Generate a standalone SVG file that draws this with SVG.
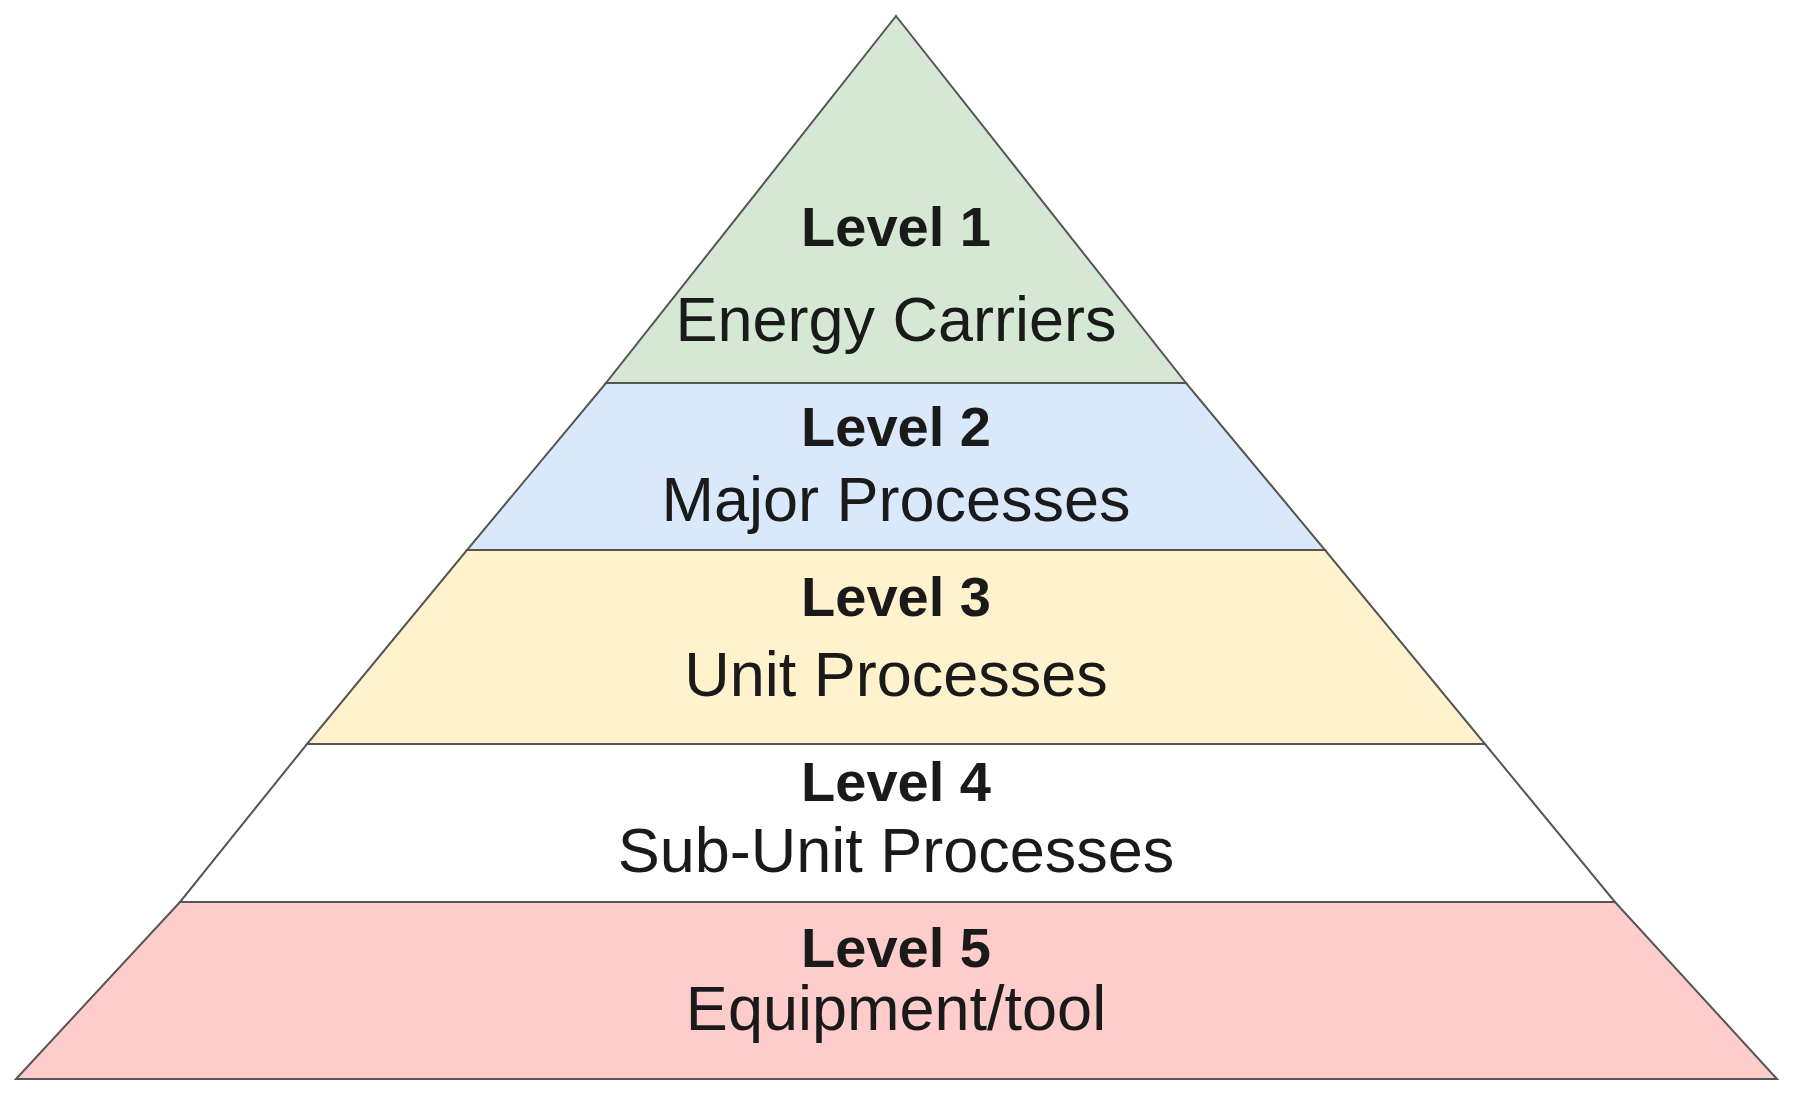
<svg xmlns="http://www.w3.org/2000/svg" width="1794" height="1095" viewBox="0 0 1794 1095">
<style>
.b{stroke:#555;stroke-width:2}
.t{font-family:"Liberation Sans",Arial,sans-serif;font-size:63px;fill:#1a1a1a;text-anchor:middle}
.h{font-weight:bold;font-size:56px}
</style>
<rect width="1794" height="1095" fill="#fff"/>
<g id="level1"><polygon class="b" points="896,16 1186,383 606,383" fill="#d5e8d4"/><text class="t h" x="896" y="246">Level 1</text><text class="t" x="896" y="341">Energy Carriers</text></g>
<g id="level2"><polygon class="b" points="606,383 1186,383 1325,550 467,550" fill="#dae8fc"/><text class="t h" x="896" y="446">Level 2</text><text class="t" x="896" y="521">Major Processes</text></g>
<g id="level3"><polygon class="b" points="467,550 1325,550 1485,744 307,744" fill="#fff2cc"/><text class="t h" x="896" y="616">Level 3</text><text class="t" x="896" y="696">Unit Processes</text></g>
<g id="level4"><polygon class="b" points="307,744 1485,744 1615,902 180,902" fill="#ffffff"/><text class="t h" x="896" y="801">Level 4</text><text class="t" x="896" y="872">Sub-Unit Processes</text></g>
<g id="level5"><polygon class="b" points="180,902 1615,902 1777,1079 16,1079" fill="#ffcccc"/><text class="t h" x="896" y="967">Level 5</text><text class="t" x="896" y="1030">Equipment/tool</text></g>
<g id="connectors"/>
</svg>
